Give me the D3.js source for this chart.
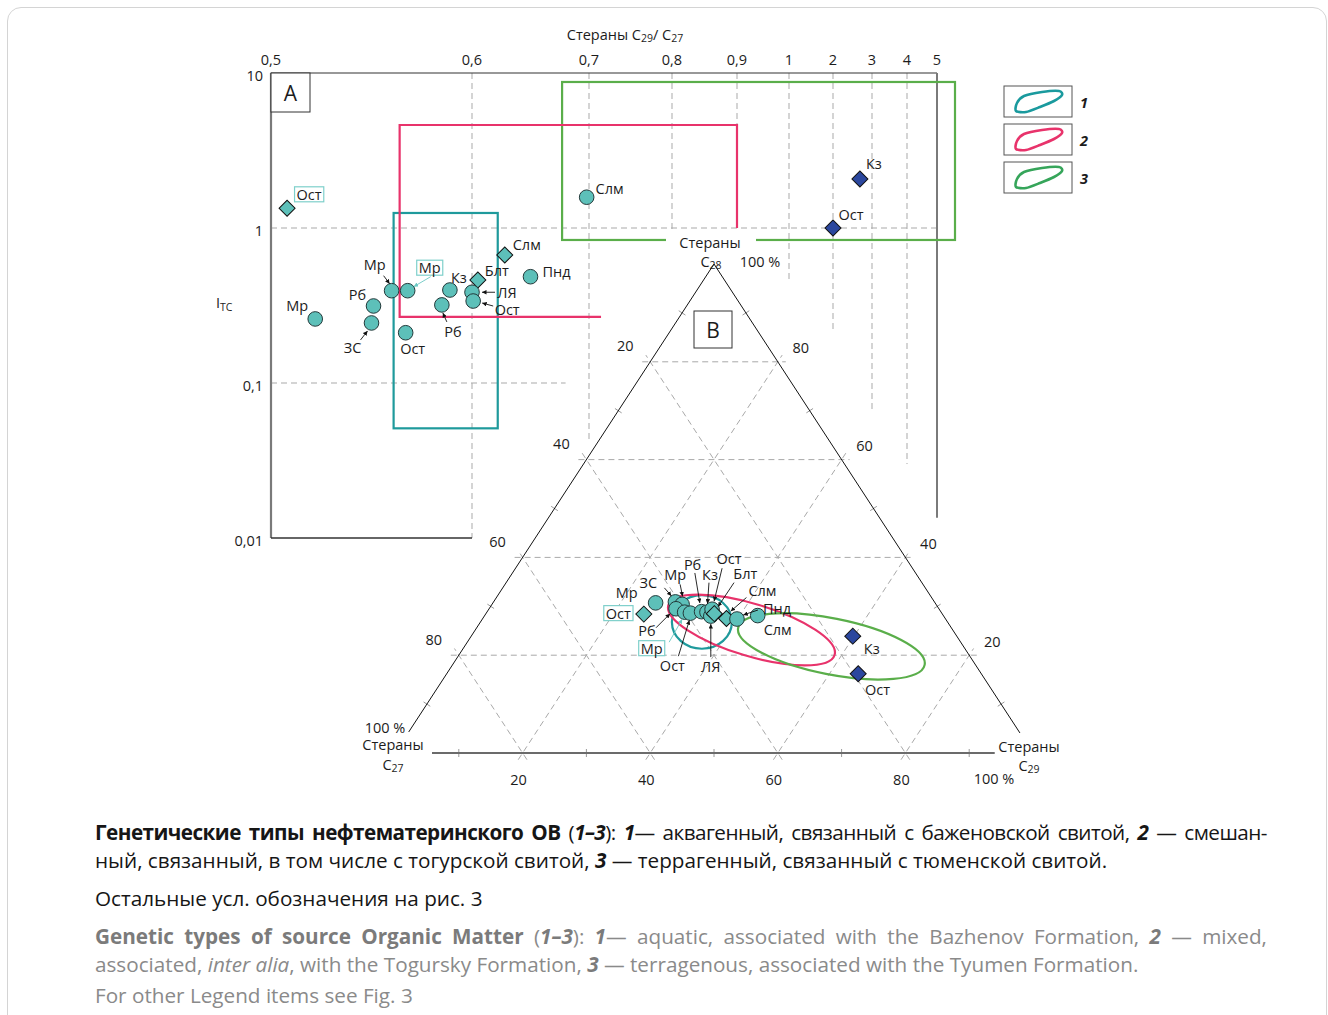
<!DOCTYPE html>
<html lang="ru">
<head>
<meta charset="utf-8">
<title>Стераны C29/C27 и тройная диаграмма</title>
<script src="https://cdn.jsdelivr.net/npm/d3@7.9.0/dist/d3.min.js"></script>
<style>
  body { margin: 0; background: #fff; }
  #wrap { position: relative; width: 1328px; height: 1015px; overflow: hidden; font-family: "Open Sans", sans-serif; }
  #frame { position: absolute; left: 7px; top: 7px; width: 1320px; height: 1040px; border: 1px solid #d4d4d4; border-radius: 14px; box-sizing: border-box; }
  #chart { position: absolute; left: 0; top: 0; }
  .cap { position: absolute; left: 95px; width: 1172px; font-size: 20.7px; line-height: 24px; color: #161616; white-space: nowrap; }
  .jl { display: flex; justify-content: space-between; }
  .tight { letter-spacing: -0.55px; }
  .en { color: #8a8a8a; }
  .en b { color: #7b7b7b; }
</style>
</head>
<body>
<div id="wrap">
  <div id="frame"></div>
  <div id="chart"></div>

  <div class="cap jl tight" style="top:820px"><b>Генетические</b><b>типы</b><b>нефтематеринского</b><b>ОВ</b><span>(<b><i>1–3</i></b>):</span><span><b><i>1</i></b>—</span><span>аквагенный,</span><span>связанный</span><span>с</span><span>баженовской</span><span>свитой,</span><b><i>2</i></b><span>—</span><span>смешан-</span></div>
  <div class="cap" style="top:848px">ный, связанный, в том числе с тогурской свитой, <b><i>3</i></b> — террагенный, связанный с тюменской свитой.</div>
  <div class="cap" style="top:886px">Остальные усл. обозначения на рис. 3</div>

  <div class="cap jl en" style="top:924px"><b>Genetic</b><b>types</b><b>of</b><b>source</b><b>Organic</b><b>Matter</b><span>(<b><i>1–3</i></b>):</span><span><b><i>1</i></b>—</span><span>aquatic,</span><span>associated</span><span>with</span><span>the</span><span>Bazhenov</span><span>Formation,</span><b><i>2</i></b><span>—</span><span>mixed,</span></div>
  <div class="cap en" style="top:952px">associated, <i>inter alia</i>, with the Togursky Formation, <b><i>3</i></b> — terragenous, associated with the Tyumen Formation.</div>
  <div class="cap en" style="top:983px">For other Legend items see Fig. 3</div>
</div>

<script>
/* ---------------- DATA ---------------- */

// panel A: steranes C29/C27 (x) vs I_TC (y)
const ratioTicks = [0.5, 0.6, 0.7, 0.8, 0.9, 1, 2, 3, 4, 5];
const ratioTickText = ["0,5", "0,6", "0,7", "0,8", "0,9", "1", "2", "3", "4", "5"];
const itcTicks = [10, 1, 0.1, 0.01];
const itcTickText = ["10", "1", "0,1", "0,01"];

// sample kind: "o" teal circle, "e" teal diamond, "k" blue diamond
const namesA = ["Ост", "Слм", "Слм", "Мр", "Мр", "Кз", "Блт", "ЛЯ", "Ост", "Пнд", "Рб", "Рб", "ЗС", "Мр", "Ост", "Кз", "Ост"];
const kindA  = ["e", "o", "e", "o", "o", "o", "e", "o", "o", "o", "o", "o", "o", "o", "o", "k", "k"];
const ratioA = [0.508, 0.698, 0.628, 0.560, 0.568, 0.589, 0.605, 0.600, 0.601, 0.650, 0.585, 0.551, 0.550, 0.522, 0.567, 2.69, 2.0];
const itcA   = [1.34, 1.58, 0.67, 0.394, 0.394, 0.398, 0.462, 0.385, 0.338, 0.485, 0.319, 0.314, 0.244, 0.259, 0.211, 2.07, 1.0];

// genetic type zones in panel A: [ratio min, ratio max, itc min, itc max]
const zoneA1 = [0.561, 0.622, 0.051, 1.25];
const zoneA2 = [0.564, 0.90, 0.267, 4.62];
const zoneA3 = [0.677, 5.6, 0.837, 8.75];

// panel B: ternary C27 / C28 / C29, %
const namesB = ["Ост", "Мр", "ЗС", "Мр", "Рб", "Мр", "Ост", "Рб", "Кз", "ЛЯ", "Ост", "Блт", "Слм", "Пнд", "Слм", "Кз", "Ост"];
const kindB  = ["e", "o", "o", "o", "o", "o", "o", "o", "o", "o", "o", "e", "e", "o", "o", "k", "k"];
const c27B = [46.8, 43.8, 40.6, 39.8, 41.2, 40.2, 39.4, 37.5, 36.7, 36.5, 35.6, 35.7, 34.3, 32.7, 29.1, 16.3, 19.3];
const c28B = [28.4, 30.7, 30.9, 30.4, 29.5, 28.8, 28.6, 28.9, 28.8, 28.0, 29.4, 28.5, 27.5, 27.4, 28.1, 23.9, 16.2];
const c29B = [24.8, 25.5, 28.5, 29.8, 29.3, 31.0, 32.0, 33.6, 34.5, 35.5, 35.0, 35.8, 38.2, 39.9, 42.8, 59.8, 64.5];

const ternTicks = [20, 40, 60, 80];
const ternMinor = [10, 30, 50, 70, 90];

// zone ellipses in panel B (centre C29, C28; semi-axes in %; tilt, degrees)
const zoneC29 = [34.7, 43.3, 57.5];
const zoneC28 = [26.8, 25.15, 21.8];
const zoneRx  = [4.7, 13.6, 14.9];
const zoneRy  = [4.2, 4.1, 4.4];
const zoneTilt = [0, 16.7, 11.2];

const legendItems = ["1", "2", "3"];

/* ---------------- LAYOUT ---------------- */

const zoneColor = ["#1f9a9c", "#e8336b", "#5aae4a"];
const legendColor = ["#1a9a9e", "#e8336b", "#36a55a"];
const fillOf = { o: "#5dc0b9", e: "#5dc0b9", k: "#2b479e" };

// label offsets from the marker: [dx, dy, boxed, arrow offsets x1,y1,x2,y2]
const labelA = [
  [22, -14, true, null],
  [23, -9, false, null],
  [22, -10, false, null],
  [-17, -26, false, [-8, -15, -2, -7]],
  [22, -23, true, [23, -14, 6, -4]],
  [9, -13, false, null],
  [19, -9, false, null],
  [35, 0, false, [23, 0, 10, 0]],
  [34, 8, false, [20, 5, 9, 2]],
  [26, -5, false, null],
  [11, 27, false, [5, 17, 1, 8]],
  [-16, -11, false, null],
  [-19, 25, false, [-11, 17, -4, 8]],
  [-18, -13, false, null],
  [7, 16, false, null],
  [14, -16, false, null],
  [18, -14, false, null]
];

const labelB = [
  [-25.5, -1, true, null],
  [-29, -10, false, null],
  [-27, -19, false, [-11, -14, -4, -6]],
  [-7, -30, false, [-2, -20, 0.5, -8]],
  [-29, 21.5, false, [-20, 19, -6, 5]],
  [-33, 36, true, [-15.5, 30, -2.5, 7]],
  [-18, 52, false, [-12, 43, -1, 7]],
  [-9, -47, false, [-6.7, -38.7, -1.7, -8.7]],
  [3, -37.5, false, [2, -29.5, 0.5, -8.5]],
  [0, 50.7, false, [0, 41, 0, 8]],
  [17, -51, false, [10, -41, 2, -8]],
  [31, -40, false, [19.7, -31, 3.7, -7]],
  [36, -28, false, [20, -21, 4.3, -7.3]],
  [40, -11, false, [21, -9, 6.3, -4]],
  [20, 13.6, false, null],
  [19, 12.3, false, null],
  [19.4, 16, false, null]
];

const W = 1328, H = 1015;
const labelFont = "Open Sans, sans-serif";

const svg = d3.select("#chart").append("svg")
  .attr("width", W).attr("height", H)
  .style("font-family", labelFont)
  .style("font-size", "14.5px");

const defs = svg.append("defs");
function arrowMarker(id, color) {
  defs.append("marker")
    .attr("id", id)
    .attr("viewBox", "0 0 6 6")
    .attr("refX", 6).attr("refY", 3)
    .attr("markerWidth", 5).attr("markerHeight", 5)
    .attr("orient", "auto")
    .append("path").attr("d", "M0,0L6,3L0,6Z").attr("fill", color);
}
arrowMarker("arr", "#111");
arrowMarker("arrT", "#6cc8c3");

const diamond = d3.symbol().type(d3.symbolSquare).size(128);

function drawMarker(g, kind, x, y) {
  if (kind === "o") {
    g.append("circle").attr("cx", x).attr("cy", y).attr("r", 7.3)
      .attr("fill", fillOf.o).attr("stroke", "#23393a").attr("stroke-width", 1);
  } else {
    g.append("path").attr("d", diamond)
      .attr("transform", `translate(${x},${y}) rotate(45)`)
      .attr("fill", fillOf[kind]).attr("stroke", "#111").attr("stroke-width", 1);
  }
}

function drawLabel(g, name, x, y, lab) {
  const [dx, dy, boxed, arrow] = lab;
  if (arrow) {
    g.append("line")
      .attr("x1", x + arrow[0]).attr("y1", y + arrow[1])
      .attr("x2", x + arrow[2]).attr("y2", y + arrow[3])
      .attr("stroke", boxed ? "#6cc8c3" : "#111").attr("stroke-width", 0.9)
      .attr("marker-end", boxed ? "url(#arrT)" : "url(#arr)");
  }
  const t = g.append("text")
    .attr("x", x + dx).attr("y", y + dy)
    .attr("text-anchor", "middle").attr("dominant-baseline", "central")
    .attr("fill", "#1c1c1c")
    .text(name);
  if (boxed) {
    const b = t.node().getBBox();
    g.insert("rect", () => t.node())
      .attr("x", b.x - 2).attr("y", b.y + 2)
      .attr("width", b.width + 4).attr("height", b.height - 4)
      .attr("fill", "#fff").attr("stroke", "#7fd0cb").attr("stroke-width", 1.2);
  }
}

/* ---------------- PANEL A ---------------- */

const xA = d3.scaleLinear()
  .domain(ratioTicks)
  .range([271, 472, 589, 672, 737, 789, 833, 872, 907, 937]);
const yA = d3.scaleLog().domain([0.01, 10]).range([538, 73]);

const gA = svg.append("g");

// dashed gridlines, each stops where panel B begins
const vGridEnd = [null, 0.01, 0.043, 0.837, 1.0, 0.46, 0.22, 0.067, 0.03, null];
ratioTicks.forEach((v, i) => {
  if (vGridEnd[i] === null) return;
  gA.append("line")
    .attr("x1", xA(v)).attr("x2", xA(v))
    .attr("y1", yA(10)).attr("y2", yA(vGridEnd[i]))
    .attr("stroke", "#a9a9a9").attr("stroke-dasharray", "6,4");
});
const hGridEnd = [null, 5, 0.68, null];
itcTicks.forEach((v, i) => {
  if (hGridEnd[i] === null) return;
  gA.append("line")
    .attr("x1", xA(0.5)).attr("x2", xA(hGridEnd[i]))
    .attr("y1", yA(v)).attr("y2", yA(v))
    .attr("stroke", "#a9a9a9").attr("stroke-dasharray", "6,4");
});

// frame
gA.append("line").attr("x1", xA(0.5)).attr("x2", xA(5)).attr("y1", yA(10)).attr("y2", yA(10))
  .attr("stroke", "#333").attr("stroke-width", 1.2);
gA.append("line").attr("x1", xA(0.5)).attr("x2", xA(0.5)).attr("y1", yA(10)).attr("y2", yA(0.01))
  .attr("stroke", "#7a7a7a").attr("stroke-width", 2.2);
gA.append("line").attr("x1", xA(0.5)).attr("x2", xA(0.6)).attr("y1", yA(0.01)).attr("y2", yA(0.01))
  .attr("stroke", "#333").attr("stroke-width", 1.4);
gA.append("line").attr("x1", xA(5)).attr("x2", xA(5)).attr("y1", yA(10)).attr("y2", yA(0.0135))
  .attr("stroke", "#7a7a7a").attr("stroke-width", 2);

// zones
function zoneRect(z, color) {
  gA.append("rect")
    .attr("x", xA(z[0])).attr("y", yA(z[3]))
    .attr("width", xA(z[1]) - xA(z[0])).attr("height", yA(z[2]) - yA(z[3]))
    .attr("fill", "none").attr("stroke", color).attr("stroke-width", 2.2);
}
zoneRect(zoneA3, zoneColor[2]);
zoneRect(zoneA1, zoneColor[0]);
// zone 2 is open at the right, cut by panel B
gA.append("path")
  .attr("d", d3.line()([
    [xA(0.7145), yA(zoneA2[2])],
    [xA(zoneA2[0]), yA(zoneA2[2])],
    [xA(zoneA2[0]), yA(zoneA2[3])],
    [xA(zoneA2[1]), yA(zoneA2[3])],
    [xA(zoneA2[1]), yA(1.0)]
  ]))
  .attr("fill", "none").attr("stroke", zoneColor[1]).attr("stroke-width", 2.2);

// ticks
ratioTicks.forEach((v, i) => {
  gA.append("text").attr("x", xA(v)).attr("y", 59)
    .attr("text-anchor", "middle").attr("dominant-baseline", "central")
    .attr("fill", "#1c1c1c").text(ratioTickText[i]);
});
itcTicks.forEach((v, i) => {
  gA.append("text").attr("x", 263).attr("y", yA(v) + 2)
    .attr("text-anchor", "end").attr("dominant-baseline", "central")
    .attr("fill", "#1c1c1c").text(itcTickText[i]);
});

// axis titles
const tTop = gA.append("text").attr("x", 625).attr("y", 34)
  .attr("text-anchor", "middle").attr("dominant-baseline", "central").attr("fill", "#1c1c1c");
tTop.append("tspan").text("Стераны C");
tTop.append("tspan").attr("font-size", 10.5).attr("dy", 4).text("29");
tTop.append("tspan").attr("dy", -4).text("/ C");
tTop.append("tspan").attr("font-size", 10.5).attr("dy", 4).text("27");

const tLeft = gA.append("text").attr("x", 216).attr("y", 302)
  .attr("dominant-baseline", "central").attr("fill", "#1c1c1c");
tLeft.append("tspan").text("I");
tLeft.append("tspan").attr("font-size", 10.5).attr("dy", 5).text("TC");

gA.append("rect").attr("x", xA(0.5)).attr("y", yA(10)).attr("width", 39).attr("height", 39)
  .attr("fill", "#fff").attr("stroke", "#333");
gA.append("text").attr("x", xA(0.5) + 19.5).attr("y", yA(10) + 20)
  .attr("text-anchor", "middle").attr("dominant-baseline", "central")
  .attr("font-size", 21).attr("fill", "#1c1c1c").text("A");

// samples
namesA.forEach((n, i) => drawMarker(gA, kindA[i], xA(ratioA[i]), yA(itcA[i])));
namesA.forEach((n, i) => drawLabel(gA, n, xA(ratioA[i]), yA(itcA[i]), labelA[i]));

/* ---------------- PANEL B (TERNARY) ---------------- */

const tx = d3.scaleLinear().domain([0, 100]).range([395, 1033]);
const ty = d3.scaleLinear().domain([0, 100]).range([753, 264]);

function tern(c27, c28, c29) {
  const s = c27 + c28 + c29;
  const b = c28 / s * 100, c = c29 / s * 100;
  return [tx(c + b / 2), ty(b)];
}

const gB = svg.append("g");

function extended(p, q, ext) {
  const dx = q[0] - p[0], dy = q[1] - p[1];
  const len = Math.hypot(dx, dy);
  const ux = dx / len, uy = dy / len;
  return [[p[0] - ux * ext, p[1] - uy * ext], [q[0] + ux * ext, q[1] + uy * ext]];
}

function dashed(p, q) {
  const [a, b] = extended(p, q, 8);
  gB.append("line").attr("x1", a[0]).attr("y1", a[1]).attr("x2", b[0]).attr("y2", b[1])
    .attr("stroke", "#a9a9a9").attr("stroke-dasharray", "6,4");
}

ternTicks.forEach(v => {
  dashed(tern(100 - v, v, 0), tern(0, v, 100 - v));       // C28 = v
  dashed(tern(100 - v, 0, v), tern(0, 100 - v, v));       // C29 = v
  dashed(tern(v, 0, 100 - v), tern(v, 100 - v, 0));       // C27 = v
});

// minor ticks on the sides
function tick(p, nx, ny) {
  gB.append("line")
    .attr("x1", p[0] - nx * 4).attr("y1", p[1] - ny * 4)
    .attr("x2", p[0] + nx * 4).attr("y2", p[1] + ny * 4)
    .attr("stroke", "#9a9a9a");
}
const apex = tern(0, 100, 0), bl = tern(100, 0, 0), br = tern(0, 0, 100);
const eL = Math.hypot(apex[0] - bl[0], apex[1] - bl[1]);
ternMinor.forEach(v => {
  tick(tern(100 - v, 0, v), 0, 1);
  tick(tern(100 - v, v, 0), (apex[1] - bl[1]) / eL, -(apex[0] - bl[0]) / eL);
  tick(tern(0, v, 100 - v), (apex[1] - br[1]) / eL, -(apex[0] - br[0]) / eL);
});

// sides (open at the bottom corners)
gB.append("line")
  .attr("x1", apex[0]).attr("y1", apex[1])
  .attr("x2", tern(95.7, 4.3, 0)[0]).attr("y2", tern(95.7, 4.3, 0)[1])
  .attr("stroke", "#111").attr("stroke-width", 1);
gB.append("line")
  .attr("x1", apex[0]).attr("y1", apex[1])
  .attr("x2", tern(0, 4.1, 95.9)[0]).attr("y2", tern(0, 4.1, 95.9)[1])
  .attr("stroke", "#111").attr("stroke-width", 1);
gB.append("line")
  .attr("x1", tx(5.8)).attr("y1", ty(0)).attr("x2", tx(94)).attr("y2", ty(0))
  .attr("stroke", "#6b6b6b").attr("stroke-width", 1.8);

// tick labels
ternTicks.forEach(v => {
  const pl = tern(v, 100 - v, 0);
  gB.append("text").attr("x", pl[0] - 25).attr("y", pl[1] - 16)
    .attr("text-anchor", "middle").attr("dominant-baseline", "central").attr("fill", "#1c1c1c").text(v);
  const pr = tern(0, v, 100 - v);
  gB.append("text").attr("x", pr[0] + 23).attr("y", pr[1] - 14)
    .attr("text-anchor", "middle").attr("dominant-baseline", "central").attr("fill", "#1c1c1c").text(v);
  const pb = tern(100 - v, 0, v);
  gB.append("text").attr("x", pb[0] - 4).attr("y", pb[1] + 26)
    .attr("text-anchor", "middle").attr("dominant-baseline", "central").attr("fill", "#1c1c1c").text(v);
});

// vertex titles
function subLabel(x, y, main, sub) {
  const t = gB.append("text").attr("x", x).attr("y", y)
    .attr("text-anchor", "middle").attr("dominant-baseline", "central").attr("fill", "#1c1c1c");
  t.append("tspan").text(main);
  t.append("tspan").attr("font-size", 10.5).attr("dy", 4).text(sub);
}
function plain(x, y, s) {
  gB.append("text").attr("x", x).attr("y", y)
    .attr("text-anchor", "middle").attr("dominant-baseline", "central").attr("fill", "#1c1c1c").text(s);
}
gB.append("rect").attr("x", apex[0] - 48).attr("y", apex[1] - 31).attr("width", 90).attr("height", 18).attr("fill", "#fff");
plain(apex[0] - 4, apex[1] - 22, "Стераны");
subLabel(apex[0] - 3, apex[1] - 3, "C", "28");
plain(apex[0] + 46, apex[1] - 3, "100 %");

plain(bl[0] - 10, bl[1] - 26, "100 %");
plain(bl[0] - 2, bl[1] - 9, "Стераны");
subLabel(bl[0] - 2, bl[1] + 11, "C", "27");

plain(br[0] - 4, br[1] - 7, "Стераны");
subLabel(br[0] - 4, br[1] + 12, "C", "29");
plain(br[0] - 39, br[1] + 25, "100 %");

gB.append("rect").attr("x", 694).attr("y", 311).attr("width", 38).attr("height", 37)
  .attr("fill", "#fff").attr("stroke", "#333");
gB.append("text").attr("x", 713).attr("y", 330)
  .attr("text-anchor", "middle").attr("dominant-baseline", "central")
  .attr("font-size", 21).attr("fill", "#1c1c1c").text("B");

// zone ellipses
const unit = tx(1) - tx(0);
zoneC29.forEach((c, i) => {
  const p = tern(100 - zoneC28[i] - c, zoneC28[i], c);
  gB.append("ellipse")
    .attr("cx", p[0]).attr("cy", p[1])
    .attr("rx", zoneRx[i] * unit).attr("ry", zoneRy[i] * unit)
    .attr("transform", `rotate(${zoneTilt[i]},${p[0]},${p[1]})`)
    .attr("fill", "none").attr("stroke", zoneColor[i]).attr("stroke-width", 2.2);
});

// samples
namesB.forEach((n, i) => {
  const p = tern(c27B[i], c28B[i], c29B[i]);
  drawMarker(gB, kindB[i], p[0], p[1]);
});
namesB.forEach((n, i) => {
  const p = tern(c27B[i], c28B[i], c29B[i]);
  drawLabel(gB, n, p[0], p[1], labelB[i]);
});

/* ---------------- LEGEND ---------------- */

const blob = d3.line().curve(d3.curveCardinalClosed.tension(0.2))([
  [12, 25], [13, 17], [20, 10], [38, 6], [55, 5], [58, 9], [50, 15], [36, 21], [22, 26]
]);

const gL = svg.append("g");
legendItems.forEach((s, i) => {
  const y0 = 86 + i * 38;
  gL.append("rect").attr("x", 1004).attr("y", y0).attr("width", 68).attr("height", 31)
    .attr("fill", "#fff").attr("stroke", "#555");
  gL.append("path").attr("d", blob).attr("transform", `translate(1004,${y0})`)
    .attr("fill", "none").attr("stroke", legendColor[i]).attr("stroke-width", 2.6);
  gL.append("text").attr("x", 1084).attr("y", y0 + 16)
    .attr("text-anchor", "middle").attr("dominant-baseline", "central")
    .attr("font-weight", 700).attr("font-style", "italic").attr("fill", "#1c1c1c").text(s);
});
</script>
</body>
</html>
